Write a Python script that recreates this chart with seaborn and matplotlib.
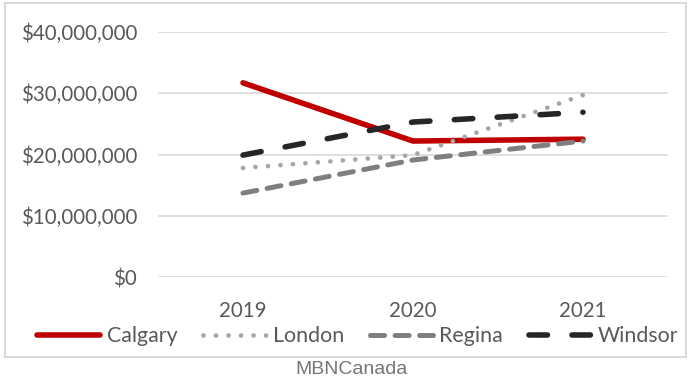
import matplotlib
matplotlib.use("Agg")
import matplotlib.pyplot as plt
from matplotlib.patches import Rectangle
from matplotlib.ticker import FuncFormatter
import pandas as pd
import seaborn as sns

# Yearly values per municipality (dollars)
years = ["2019", "2020", "2021"]
calgary = [31_700_000, 22_200_000, 22_500_000]
london = [17_800_000, 19_900_000, 29_700_000]
regina = [13_700_000, 19_100_000, 22_200_000]
windsor = [19_900_000, 25_300_000, 26_900_000]
cities = ["Calgary", "London", "Regina", "Windsor"]
y_ticks = [0, 10_000_000, 20_000_000, 30_000_000, 40_000_000]
source_note = "MBNCanada"

series = {"Calgary": calgary, "London": london, "Regina": regina, "Windsor": windsor}
df = pd.DataFrame(
    [{"Year": yr, "City": c, "Value": v} for c in cities for yr, v in zip(years, series[c])]
)

sns.set_theme(style="white")
plt.rcParams["font.family"] = ["Lato", "DejaVu Sans"]
plt.rcParams["lines.scale_dashes"] = False

# line styles: colour, width (pt), dash pattern (pt)
styles = {
    "Calgary": dict(color="#C00000", lw=4.0, dash=None),
    "London": dict(color="#A6A6A6", lw=3.4, dash=(0.01, 9.0)),
    "Regina": dict(color="#7F7F7F", lw=3.6, dash=(10.1, 7.6)),
    "Windsor": dict(color="#262626", lw=4.0, dash=(13.3, 17.6)),
}

W, H = 691, 379
fig = plt.figure(figsize=(W / 100, H / 100), dpi=100)
ax = fig.add_axes([158 / W, 1 - 277 / H, 510 / W, 245 / H])

for c in cities:
    st = styles[c]
    sub = df[df["City"] == c]
    sns.lineplot(data=sub, x="Year", y="Value", ax=ax, color=st["color"],
                 linewidth=st["lw"], label=c, sort=False)
    line = ax.lines[-1]
    if st["dash"] is None:
        line.set_solid_capstyle("round")
    else:
        line.set_linestyle((0, st["dash"]))
        line.set_dash_capstyle("round")
    line.set_solid_joinstyle("round")

ax.set_xlim(-0.5, 2.5)
ax.set_ylim(0, 40_000_000)
ax.set_yticks(y_ticks)
ax.yaxis.set_major_formatter(FuncFormatter(lambda v, _: f"${v:,.0f}"))
ax.set_xlabel("")
ax.set_ylabel("")
for s in ax.spines.values():
    s.set_visible(False)
ax.yaxis.grid(True, color="#D9D9D9", linewidth=1.2)
ax.xaxis.grid(False)
ax.set_axisbelow(True)
ax.tick_params(axis="y", length=0, pad=15, labelsize=14.8, labelcolor="#595959")
ax.tick_params(axis="x", length=0, pad=17, labelsize=14.8, labelcolor="#595959")

handles, labels = ax.get_legend_handles_labels()
ax.get_legend().remove()
fig.legend(handles, labels, loc="center", bbox_to_anchor=(358 / W, 1 - 336 / H),
           ncol=4, frameon=False, fontsize=15.4, labelcolor="#595959",
           handlelength=2.95, handletextpad=0.3, columnspacing=1.2)

fig.patches.append(Rectangle((5 / W, 1 - 357 / H), 681 / W, 354 / H,
                             transform=fig.transFigure, fill=False,
                             edgecolor="#D9D9D9", linewidth=1.5))
fig.text(352 / W, 1 - 378 / H, source_note, ha="center", va="bottom",
         family=["Liberation Sans", "DejaVu Sans"], color="#767676", fontsize=14.0)

fig.savefig("out.png", dpi=100)
